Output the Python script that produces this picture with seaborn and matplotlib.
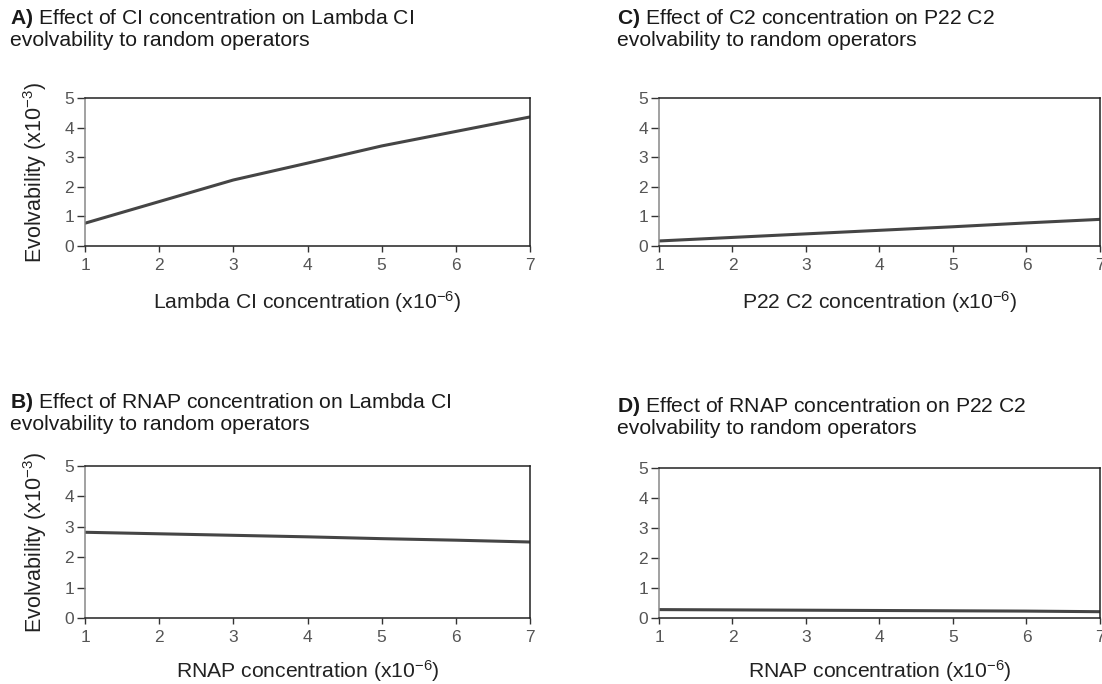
import matplotlib
matplotlib.use("Agg")
import matplotlib.pyplot as plt
import seaborn as sns
import pandas as pd

# ---- data ----
conc = [1, 2, 3, 4, 5, 6, 7]
evol_A = [0.77, 1.50, 2.23, 2.80, 3.38, 3.87, 4.36]   # CI conc -> Lambda CI
evol_B = [2.82, 2.77, 2.72, 2.67, 2.61, 2.56, 2.50]   # RNAP conc -> Lambda CI
evol_C = [0.17, 0.29, 0.41, 0.53, 0.65, 0.78, 0.90]   # C2 conc -> P22 C2
evol_D = [0.28, 0.27, 0.26, 0.25, 0.24, 0.23, 0.21]   # RNAP conc -> P22 C2
yticks = [0, 1, 2, 3, 4, 5]

titles = {
    "A": ("A)", "Effect of CI concentration on Lambda CI", "evolvability to random operators"),
    "B": ("B)", "Effect of RNAP concentration on Lambda CI", "evolvability to random operators"),
    "C": ("C)", "Effect of C2 concentration on P22 C2", "evolvability to random operators"),
    "D": ("D)", "Effect of RNAP concentration on P22 C2", "evolvability to random operators"),
}
xlabels = {
    "A": "Lambda CI concentration (x10$^{-6}$)",
    "B": "RNAP concentration (x10$^{-6}$)",
    "C": "P22 C2 concentration (x10$^{-6}$)",
    "D": "RNAP concentration (x10$^{-6}$)",
}
ylabel = "Evolvability (x10$^{-3}$)"

sns.set_style("white")
plt.rcParams['font.family'] = ['Liberation Sans', 'DejaVu Sans']
plt.rcParams['mathtext.fontset'] = 'custom'
plt.rcParams['mathtext.rm'] = 'Liberation Sans'
plt.rcParams['mathtext.it'] = 'Liberation Sans:italic'
plt.rcParams['mathtext.bf'] = 'Liberation Sans:bold'

W, H = 1102, 684
fig = plt.figure(figsize=(W / 100, H / 100), dpi=100)

def frac(left, top, right, bottom):
    return [left / W, 1 - bottom / H, (right - left) / W, (bottom - top) / H]

boxes = {
    "A": frac(85, 98, 530, 246),
    "C": frac(659, 98, 1100, 246),
    "B": frac(85, 466, 530, 618),
    "D": frac(659, 468, 1100, 618),
}
values = {"A": evol_A, "B": evol_B, "C": evol_C, "D": evol_D}
title_pos = {"A": (10, 18), "C": (617, 18), "B": (10, 402), "D": (617, 406)}
xlabel_pad = {"A": 12, "C": 12, "B": 9.5, "D": 9.5}

line_col = "#454545"
tick_col = "#555555"
for key in ["A", "C", "B", "D"]:
    ax = fig.add_axes(boxes[key])
    df = pd.DataFrame({"conc": conc, "evol": values[key]})
    sns.lineplot(data=df, x="conc", y="evol", ax=ax, color=line_col, linewidth=2.2)
    ax.set_xlim(1, 7)
    ax.set_ylim(0, 5)
    ax.set_xticks(conc)
    ax.set_yticks(yticks)
    ax.tick_params(axis="x", direction="out", length=4.5, width=1, colors="#333333",
                   labelcolor=tick_col, labelsize=12.5, pad=4, bottom=True)
    ax.tick_params(axis="y", direction="out", length=6, width=1, colors="#333333",
                   labelcolor=tick_col, labelsize=12.5, pad=2, left=True)
    for s in ["top", "right", "bottom"]:
        ax.spines[s].set_color("#222222")
        ax.spines[s].set_linewidth(1.1)
    ax.spines["left"].set_color("#888888")
    ax.spines["left"].set_linewidth(1.1)
    ax.set_xlabel(xlabels[key], fontsize=15.2, color="#222222", labelpad=xlabel_pad[key])
    if key in ("A", "B"):
        ax.set_ylabel(ylabel, fontsize=15.5, color="#222222", labelpad=11)
    else:
        ax.set_ylabel("")
    tx, ty = title_pos[key]
    b, l1, l2 = titles[key]
    fig.text(tx / W, 1 - ty / H, r"$\mathbf{" + b + "}$ " + l1, fontsize=15.2,
             color="#1a1a1a", va="center", ha="left")
    fig.text(tx / W, 1 - (ty + 23) / H, l2, fontsize=15.2,
             color="#1a1a1a", va="center", ha="left")

fig.savefig("out.png", dpi=100, facecolor="white")
